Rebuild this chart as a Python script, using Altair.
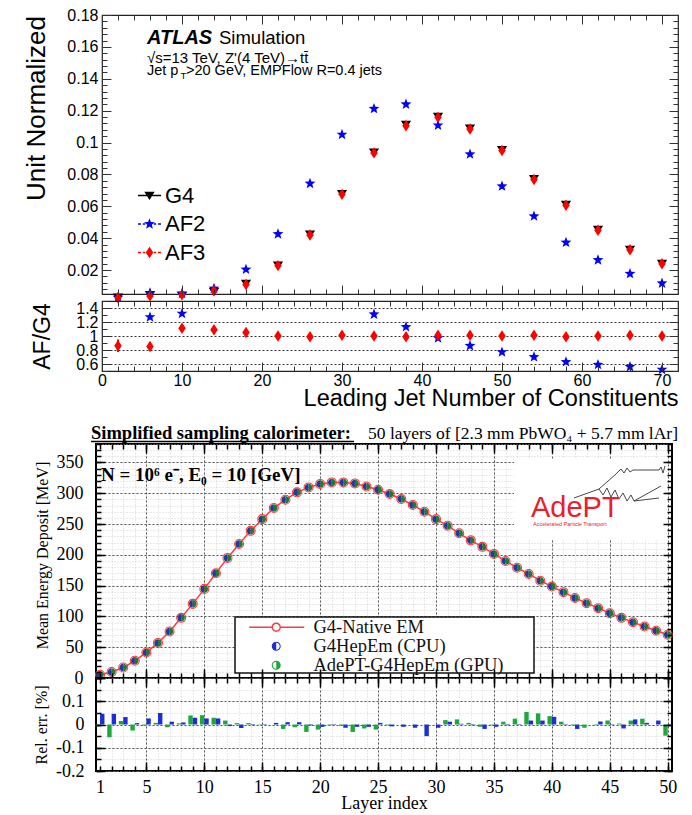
import math
import altair as alt
import pandas as pd

# ------------------------------------------------------------------ data
# ATLAS panel: leading jet number of constituents (unit normalized)
n_const = [2, 6, 10, 14, 18, 22, 26, 30, 34, 38, 42, 46, 50, 54, 58, 62, 66, 70]
g4_norm = [0.0030, 0.0045, 0.0042, 0.0065, 0.0117, 0.0232, 0.0426, 0.0680, 0.0940,
           0.1114, 0.1164, 0.1090, 0.0955, 0.0774, 0.0613, 0.0455, 0.0330, 0.0242]
af2_norm = [0.0028, 0.0057, 0.0053, 0.0085, 0.0204, 0.0426, 0.0743, 0.1050, 0.1212,
            0.1240, 0.1108, 0.0927, 0.0726, 0.0538, 0.0373, 0.0263, 0.0177, 0.0117]
af3_norm = [0.0026, 0.0038, 0.0046, 0.0070, 0.0110, 0.0228, 0.0420, 0.0675, 0.0935,
            0.1105, 0.1158, 0.1085, 0.0950, 0.0768, 0.0607, 0.0450, 0.0328, 0.0240]
ratio_af2 = [None, 1.27, 1.32, None, None, None, None, None, 1.31,
             1.13, 0.97, 0.86, 0.77, 0.70, 0.63, 0.59, 0.56, 0.52]
ratio_af3 = [0.86, 0.85, 1.11, 1.09, 1.05, 1.00, 0.99, 1.01, 1.00,
             0.99, 1.01, 1.01, 1.00, 1.01, 0.99, 1.00, 1.01, 1.00]
ratio_af3_err = [0.09, 0.02, 0.02, 0.02, 0.015, 0.01, 0.01, 0.01, 0.01,
                 0.01, 0.01, 0.01, 0.01, 0.01, 0.01, 0.01, 0.01, 0.01]
atlas_series = ["G4", "AF2", "AF3"]
atlas_colors = ["#000000", "#0000ff", "#ff0000"]

# AdePT panel: simplified sampling calorimeter
layer_idx = list(range(1, 51))
edep_mev = [5.3, 9.7, 17.0, 28.0, 41.5, 57.0, 75.5, 97.7, 120.4, 144.7,
            170.0, 195.0, 217.6, 239.0, 258.0, 276.0, 289.5, 301.5, 309.5, 315.0,
            317.6, 317.6, 316.0, 311.0, 305.7, 298.7, 290.6, 281.0, 270.0, 258.0,
            247.4, 235.0, 223.5, 213.0, 201.5, 190.0, 179.0, 169.0, 158.0, 148.5,
            139.4, 130.0, 121.5, 113.4, 105.3, 97.7, 90.7, 83.6, 76.7, 70.2]
relerr_cpu = [0.046, 0.046, 0.032, 0.006, 0.026, 0.050, 0.012, 0.009, 0.029, 0.026,
              0.026, -0.007, -0.015, -0.003, -0.002, 0.007, 0.010, 0.010, -0.004, -0.010,
              0.002, -0.014, -0.010, -0.010, 0.007, -0.008, -0.010, -0.014, -0.050, -0.014,
              0.012, 0.003, -0.003, -0.019, -0.010, -0.003, 0.002, 0.017, 0.017, 0.033,
              0.002, -0.019, 0.000, 0.013, 0.002, -0.017, 0.022, 0.007, 0.017, -0.003]
relerr_gpu = [-0.008, -0.055, 0.015, -0.026, -0.005, 0.007, -0.012, 0.005, 0.039, 0.040,
              0.029, 0.017, 0.006, 0.006, 0.002, 0.000, -0.019, -0.012, -0.032, -0.022,
              -0.003, -0.005, -0.032, -0.017, -0.022, -0.003, 0.000, 0.000, 0.000, 0.000,
              0.019, 0.022, 0.007, -0.010, -0.004, 0.012, 0.025, 0.054, 0.048, 0.036,
              0.012, -0.003, -0.014, 0.002, 0.017, 0.004, 0.017, 0.025, 0.000, -0.048]
calo_series = ["G4-Native EM", "G4HepEm (CPU)", "AdePT-G4HepEm (GPU)"]
calo_colors = ["#ff3b3b", "#1a2fd6", "#1ea83c"]
calo_point_colors = ["#ff3b3b", "#1d3c9e", "#1d7a3a"]

# axis ticks / labels
x_atlas_major = [0, 10, 20, 30, 40, 50, 60, 70]
x_atlas_minor = list(range(0, 73, 2))
y_top_labels = [0.02, 0.04, 0.06, 0.08, 0.1, 0.12, 0.14, 0.16, 0.18]
y_top_minor = [round(0.004 * k, 3) for k in range(2, 46)]
y_ratio_labels = [0.6, 0.8, 1, 1.2, 1.4]
y_ratio_minor = [round(0.5 + 0.1 * k, 2) for k in range(11)]
x_calo_labels = [1, 5, 10, 15, 20, 25, 30, 35, 40, 45, 50]
x_calo_major = [5, 10, 15, 20, 25, 30, 35, 40, 45, 50]
x_calo_minor = layer_idx
y_calo_labels = [0, 50, 100, 150, 200, 250, 300, 350]
y_calo_minor = list(range(0, 381, 10))
y_rel_labels = [-0.2, -0.1, 0, 0.1]
y_rel_major = [-0.2, -0.1, 0, 0.1, 0.2]
y_rel_minor = [round(-0.2 + 0.05 * k, 2) for k in range(9)]

SANS = "Liberation Sans"
SERIF = "Liberation Serif"

# ------------------------------------------------------------------ symbol paths
def rect_path(x0, x1, t):
    return f"M{x0:.3f},{-t:.3f}H{x1:.3f}V{t:.3f}H{x0:.3f}Z"

def star_path(cx, R, r):
    pts = []
    for k in range(10):
        a = -math.pi / 2 + k * math.pi / 5
        rad = R if k % 2 == 0 else r
        pts.append((cx + rad * math.cos(a), rad * math.sin(a)))
    return "M" + "L".join(f"{x:.3f},{y:.3f}" for x, y in pts) + "Z"

def circle_path(cx, r, cw=True):
    s = 1 if cw else 0
    return (f"M{cx + r:.3f},0A{r:.3f},{r:.3f},0,1,{s},{cx - r:.3f},0"
            f"A{r:.3f},{r:.3f},0,1,{s},{cx + r:.3f},0Z")

def half_disc(cx, r, side):
    if side == "left":
        return f"M{cx:.3f},{r:.3f}A{r:.3f},{r:.3f},0,0,1,{cx:.3f},{-r:.3f}Z"
    return f"M{cx:.3f},{-r:.3f}A{r:.3f},{r:.3f},0,0,1,{cx:.3f},{r:.3f}Z"

TRI_DOWN = "M-0.85,-0.6L0.85,-0.6L0,0.75Z"
DIAMOND = "M0,-0.95L0.62,0L0,0.95L-0.62,0Z"
STAR = star_path(0, 0.95, 0.4)

dash = (rect_path(-1, -0.74, 0.06) + rect_path(-0.58, -0.38, 0.06)
        + rect_path(0.38, 0.58, 0.06) + rect_path(0.74, 1, 0.06))
atlas_leg_paths = [
    rect_path(-1, 1, 0.07) + "M-0.45,-0.33L0.45,-0.33L0,0.4Z",
    dash + star_path(0, 0.5, 0.21),
    dash + "M0,-0.5L0.33,0L0,0.5L-0.33,0Z",
]
cx = 5.33
ring = circle_path(cx, 0.75, True) + circle_path(cx, 0.58, False)
calo_leg_paths = [
    rect_path(0.83, cx - 0.78, 0.13) + rect_path(cx + 0.78, 10, 0.13)
    + circle_path(cx, 0.78, True) + circle_path(cx, 0.55, False),
    half_disc(cx, 0.75, "left") + ring,
    half_disc(cx, 0.75, "right") + ring,
]

# ------------------------------------------------------------------ helpers
one = pd.DataFrame({"k": [0]})

def inv(df, xs, ys, xaxis=None, yaxis=None):
    return alt.Chart(df).mark_point(size=0, opacity=0).encode(
        x=alt.X("fx:Q", scale=xs, axis=xaxis),
        y=alt.Y("fy:Q", scale=ys, axis=yaxis))

def tick_axis(orient, values, size, color, width):
    return alt.Axis(orient=orient, values=values, tickSize=size, offset=-size,
                    ticks=True, labels=False, domain=False, grid=False, title=None,
                    tickColor=color, tickWidth=width, zindex=1)

def grid_axis(orient, values, color, dsh, width):
    return alt.Axis(orient=orient, values=values, grid=True, gridColor=color,
                    gridDash=dsh, gridWidth=width, ticks=False, labels=False,
                    domain=False, title=None)

def frame_ticks(df, xs, ys, xmaj, xmin_, ymaj, ymin_, tmaj, tmin, color, width):
    out = []
    for xo, yo, xv, yv, sz in [("bottom", "left", xmaj, ymaj, tmaj),
                               ("bottom", "left", xmin_, ymin_, tmin),
                               ("top", "right", xmaj, ymaj, tmaj),
                               ("top", "right", xmin_, ymin_, tmin)]:
        out.append(inv(df, xs, ys, tick_axis(xo, xv, sz, color, width),
                       tick_axis(yo, yv, sz, color, width)))
    return out

def txt(s, x, y, size, font, color="black", weight="normal", style="normal",
        align="left", baseline="alphabetic"):
    return alt.Chart(one).mark_text(
        text=s, fontSize=size, font=font, color=color, fontWeight=weight,
        fontStyle=style, align=align, baseline=baseline
    ).encode(x=alt.value(x), y=alt.value(y))

def ylab_axis(values, font, size, pad, title, tsize, tx, ty):
    return alt.Axis(orient="left", values=values, labelExpr="toString(datum.value)",
                    ticks=False, tickSize=0, domain=False, grid=False,
                    labelFont=font, labelFontSize=size, labelColor="black",
                    labelPadding=pad, labelFlush=False, labelOverlap=False,
                    title=title, titleFont=font, titleFontSize=tsize,
                    titleFontWeight="normal", titleColor="black", titleAngle=270,
                    titleX=tx, titleY=ty, titleAlign="center",
                    titleBaseline="alphabetic")

def xlab_axis(values, font, size, pad, title, tsize, tx, ty, talign):
    return alt.Axis(orient="bottom", values=values, labelExpr="toString(datum.value)",
                    ticks=False, tickSize=0, domain=False, grid=False,
                    labelFont=font, labelFontSize=size, labelColor="black",
                    labelPadding=pad, labelFlush=False, labelOverlap=False,
                    title=title, titleFont=font, titleFontSize=tsize,
                    titleFontWeight="normal", titleColor="black",
                    titleX=tx, titleY=ty, titleAlign=talign,
                    titleBaseline="alphabetic")

def indep(ch):
    return ch.resolve_scale(color="independent", shape="independent").resolve_legend(
        color="independent", shape="independent")

# ------------------------------------------------------------------ ATLAS top panel
W = 576
xs_a = alt.Scale(domain=[0, 72], nice=False, zero=False)
ys_top = alt.Scale(domain=[0.005, 0.18], nice=False, zero=False)
dummy_top = pd.DataFrame({"fx": [0.0], "fy": [0.005]})

df_top = pd.DataFrame({"n": n_const, "g4": g4_norm, "af2": af2_norm, "af3": af3_norm})

def pts(field, shape, color, size):
    return alt.Chart(df_top).mark_point(shape=shape, filled=True, size=size,
                                         color=color, opacity=1).encode(
        x=alt.X("n:Q", scale=xs_a, axis=None),
        y=alt.Y(f"{field}:Q", scale=ys_top, axis=None))

leg_df = pd.DataFrame({"sa": atlas_series, "fx": [None] * 3, "fy": [None] * 3})
atlas_legend = alt.Legend(title=None, orient="none", legendX=36, legendY=169,
                          padding=0, symbolSize=529, symbolStrokeWidth=0,
                          labelFont=SANS, labelFontSize=22, labelColor="black",
                          labelOffset=4, rowPadding=5.5)
atlas_leg_layer = alt.Chart(leg_df).mark_point(filled=True, opacity=1).encode(
    x=alt.X("fx:Q", scale=xs_a, axis=None),
    y=alt.Y("fy:Q", scale=ys_top, axis=None),
    shape=alt.Shape("sa:N", scale=alt.Scale(domain=atlas_series, range=atlas_leg_paths),
                    legend=atlas_legend),
    color=alt.Color("sa:N", scale=alt.Scale(domain=atlas_series, range=atlas_colors),
                    legend=atlas_legend))

p1 = alt.layer(
    pts("g4", TRI_DOWN, "#000000", 144),
    pts("af2", STAR, "#0000ff", 144),
    pts("af3", DIAMOND, "#ff0000", 144),
    *frame_ticks(dummy_top, xs_a, ys_top, x_atlas_major, x_atlas_minor,
                 y_top_labels, y_top_minor, 9, 5, "#333333", 1),
    inv(dummy_top, xs_a, ys_top, None,
        ylab_axis(y_top_labels, SANS, 16, 4, "Unit Normalized", 26, -58, 93)),
    txt("ATLAS", 45, 28.5, 20, SANS, weight="bold", style="italic"),
    txt("Simulation", 117, 28.5, 18.5, SANS),
    txt("\u221as=13 TeV, Z'(4 TeV)\u2192tt\u0304", 45, 47.5, 15, SANS),
    txt("Jet p", 45, 60, 14.5, SANS),
    txt("T", 78.5, 64, 9.5, SANS),
    txt(">20 GeV, EMPFlow R=0.4 jets", 84, 60, 14.5, SANS),
    atlas_leg_layer,
).resolve_axis(x="independent", y="independent").properties(
    width=W, height=279, view=alt.ViewBackground(stroke="#222222", strokeWidth=1.2))

# ------------------------------------------------------------------ ATLAS ratio panel
ys_rat = alt.Scale(domain=[0.5, 1.5], nice=False, zero=False)
dummy_rat = pd.DataFrame({"fx": [0.0], "fy": [0.5]})
df_rat = pd.DataFrame({"n": n_const, "r2": ratio_af2, "r3": ratio_af3,
                       "e3": ratio_af3_err})

p2 = alt.layer(
    inv(dummy_rat, xs_a, ys_rat, None,
        grid_axis("left", y_ratio_labels, "#333333", [2, 2], 1)),
    alt.Chart(df_rat).transform_calculate(
        lo="datum.r3 - datum.e3", hi="datum.r3 + datum.e3"
    ).mark_rule(color="#ff0000", strokeWidth=2).encode(
        x=alt.X("n:Q", scale=xs_a, axis=None),
        y=alt.Y("lo:Q", scale=ys_rat, axis=None), y2="hi:Q"),
    alt.Chart(df_rat).mark_point(shape=STAR, filled=True, size=144, color="#0000ff",
                                 opacity=1).encode(
        x=alt.X("n:Q", scale=xs_a, axis=None),
        y=alt.Y("r2:Q", scale=ys_rat, axis=None)),
    alt.Chart(df_rat).mark_point(shape=DIAMOND, filled=True, size=144, color="#ff0000",
                                 opacity=1).encode(
        x=alt.X("n:Q", scale=xs_a, axis=None),
        y=alt.Y("r3:Q", scale=ys_rat, axis=None)),
    *frame_ticks(dummy_rat, xs_a, ys_rat, x_atlas_major, x_atlas_minor,
                 y_ratio_labels, y_ratio_minor, 9, 5, "#333333", 1),
    inv(dummy_rat, xs_a, ys_rat,
        xlab_axis(x_atlas_major, SANS, 16, 1, "Leading Jet Number of Constituents",
                  23.5, W, 34, "right"),
        ylab_axis(y_ratio_labels, SANS, 16, 4, "AF/G4", 23, -53, 35)),
).resolve_axis(x="independent", y="independent").properties(
    width=W, height=70, view=alt.ViewBackground(stroke="#222222", strokeWidth=1.2))

# ------------------------------------------------------------------ calorimeter main panel
xs_c = alt.Scale(domain=[0.65, 50.37], nice=False, zero=False)
ys_c = alt.Scale(domain=[0, 380], nice=False, zero=False)
dummy_c = pd.DataFrame({"fx": [1.0], "fy": [0.0]})
df_calo = pd.DataFrame({"layer": layer_idx, "e": edep_mev})

def calo_enc(ch):
    return ch.encode(x=alt.X("layer:Q", scale=xs_c, axis=None),
                     y=alt.Y("e:Q", scale=ys_c, axis=None))

# AdePT logo drawing (decoration, pixel coordinates inside the panel)
logo_lines = {
    "a": [(478, 54), (503, 45), (520, 30), (525, 25), (528, 29), (531, 24), (534, 28),
          (537, 26), (563, 26), (565, 23), (567, 29), (569, 22)],
    "b": [(503, 45), (507, 51), (511, 44), (515, 53), (519, 46), (523, 55), (527, 49),
          (531, 57), (535, 51), (538, 57)],
    "c": [(538, 57), (565, 42)],
    "d": [(538, 57), (563, 54)],
}
logo_rows = []
for g, ptsl in logo_lines.items():
    for i, (px, py) in enumerate(ptsl):
        logo_rows.append({"g": g, "i": i, "px": px, "py": py})
logo_df = pd.DataFrame(logo_rows)
logo_layer = alt.Chart(logo_df).mark_line(color="#333333", strokeWidth=0.9).encode(
    x=alt.X("px:Q", scale=None, axis=None), y=alt.Y("py:Q", scale=None, axis=None),
    detail="g:N", order="i:Q")

calo_leg_df = pd.DataFrame({"sc": calo_series, "fx": [None] * 3, "fy": [None] * 3})
calo_legend = alt.Legend(title=None, orient="none", legendX=139, legendY=174,
                         padding=0, symbolSize=144, symbolStrokeWidth=0,
                         labelFont=SERIF, labelFontSize=18.5, labelColor="#111111",
                         labelOffset=60, rowPadding=-1, labelLimit=400)
calo_leg_layer = alt.Chart(calo_leg_df).mark_point(filled=True, opacity=1).encode(
    x=alt.X("fx:Q", scale=xs_c, axis=None),
    y=alt.Y("fy:Q", scale=ys_c, axis=None),
    shape=alt.Shape("sc:N", scale=alt.Scale(domain=calo_series, range=calo_leg_paths),
                    legend=calo_legend),
    color=alt.Color("sc:N", scale=alt.Scale(domain=calo_series, range=calo_colors),
                    legend=calo_legend))
# frame box drawn behind the legend entries
legend_box = alt.Chart(one).mark_rect(fill="white", stroke="#111111",
                                      strokeWidth=1.5).encode(
    x=alt.value(139), x2=alt.value(438), y=alt.value(173), y2=alt.value(229))

p3 = alt.layer(
    inv(dummy_c, xs_c, ys_c, grid_axis("bottom", x_calo_minor, "#c8c8c8", [1, 2], 0.8),
        grid_axis("left", y_calo_minor, "#c8c8c8", [1, 2], 0.8)),
    inv(dummy_c, xs_c, ys_c, grid_axis("bottom", x_calo_major, "#555555", [2, 2], 1),
        grid_axis("left", y_calo_labels, "#555555", [2, 2], 1)),
    alt.Chart(one).mark_rect(color="white").encode(
        x=alt.value(418), x2=alt.value(572), y=alt.value(15), y2=alt.value(95)),
    logo_layer,
    txt("AdePT", 435, 73, 29, SANS, color="#e8202a"),
    txt("Accelerated Particle Transport", 437, 82, 5.5, SANS, color="#e8202a"),
    calo_enc(alt.Chart(df_calo).mark_line(color=calo_point_colors[0], strokeWidth=1.5)),
    calo_enc(alt.Chart(df_calo).mark_point(shape="circle", filled=False, size=80,
                                           color=calo_point_colors[0], strokeWidth=1.1,
                                           opacity=1)),
    calo_enc(alt.Chart(df_calo).mark_point(shape=half_disc(0, 1, "left"), filled=True,
                                           size=56, color=calo_point_colors[1], opacity=1)),
    calo_enc(alt.Chart(df_calo).mark_point(shape=half_disc(0, 1, "right"), filled=True,
                                           size=56, color=calo_point_colors[2], opacity=1)),
    legend_box,
    *frame_ticks(dummy_c, xs_c, ys_c, x_calo_major, x_calo_minor,
                 y_calo_labels, y_calo_minor, 9, 5, "#000000", 1.5),
    inv(dummy_c, xs_c, ys_c, None,
        ylab_axis(y_calo_labels, SERIF, 18, 13, "Mean Energy Deposit [MeV]", 16, -49, 111)),
    txt("Simplified sampling calorimeter:", -5, -5, 18.5, SERIF, weight="bold"),
    alt.Chart(one).mark_rule(color="black", strokeWidth=1.3).encode(
        x=alt.value(-5), x2=alt.value(258), y=alt.value(-2.5)),
    txt("50 layers of [2.3 mm PbWO\u2084 + 5.7 mm lAr]", 272, -5, 17.5, SERIF),
    txt("N = 10\u2076 e\u207b, E\u2080 = 10 [GeV]", 5, 36.7, 19, SERIF, weight="bold"),
    calo_leg_layer,
).resolve_axis(x="independent", y="independent").properties(
    width=W, height=234, view=alt.ViewBackground(stroke="#000000", strokeWidth=2))

# ------------------------------------------------------------------ relative error panel
ys_r = alt.Scale(domain=[-0.2, 0.2], nice=False, zero=False)
dummy_r = pd.DataFrame({"fx": [1.0], "fy": [0.0]})
df_rel = pd.DataFrame({"layer": layer_idx, "cpu": relerr_cpu, "gpu": relerr_gpu})

def bars(field, color, left):
    expr0 = "datum.layer - 0.38" if left else "datum.layer"
    expr1 = "datum.layer" if left else "datum.layer + 0.38"
    return alt.Chart(df_rel).transform_calculate(x0=expr0, x1=expr1).mark_rect(
        color=color, opacity=1).encode(
        x=alt.X("x0:Q", scale=xs_c, axis=None), x2="x1:Q",
        y=alt.Y(f"{field}:Q", scale=ys_r, axis=None), y2=alt.datum(0))

p4 = alt.layer(
    inv(dummy_r, xs_c, ys_r, grid_axis("bottom", x_calo_minor, "#c8c8c8", [1, 2], 0.8),
        grid_axis("left", y_rel_minor, "#c8c8c8", [1, 2], 0.8)),
    inv(dummy_r, xs_c, ys_r, grid_axis("bottom", x_calo_major, "#555555", [2, 2], 1),
        grid_axis("left", y_rel_major, "#555555", [2, 2], 1)),
    bars("gpu", "#1ea83c", True),
    bars("cpu", "#1a2fd6", False),
    *frame_ticks(dummy_r, xs_c, ys_r, x_calo_major, x_calo_minor,
                 y_rel_major, y_rel_minor, 9, 5, "#000000", 1.5),
    inv(dummy_r, xs_c, ys_r,
        xlab_axis(x_calo_labels, SERIF, 18, 7, "Layer index", 18, W / 2, 37, "center"),
        ylab_axis(y_rel_labels, SERIF, 18, 12, "Rel. err. [%]", 16, -50, 46.5)),
).resolve_axis(x="independent", y="independent").properties(
    width=W, height=93, view=alt.ViewBackground(stroke="#000000", strokeWidth=2))

# ------------------------------------------------------------------ layout
def spacer(w):
    return alt.Chart(one).mark_point(size=0, opacity=0).encode(
        x=alt.X("k:Q", axis=None), y=alt.Y("k:Q", axis=None)
    ).properties(width=w, height=1, view=alt.ViewBackground(stroke=None))

atlas_block = indep(alt.vconcat(p1, p2, spacing=7, bounds="flush"))
calo_block = indep(alt.vconcat(p3, p4, spacing=0, bounds="flush"))
row1 = indep(alt.hconcat(spacer(1), atlas_block, spacing=0))
row2 = indep(alt.hconcat(spacer(11), calo_block, spacing=0))

chart = indep(alt.vconcat(row1, row2, spacing=12)).properties(
    padding={"left": 13, "top": -2, "right": 0, "bottom": 0},
    background="white",
).configure_view(stroke=None)

chart.save("out.html", embed_options={"renderer": "svg", "actions": False})
